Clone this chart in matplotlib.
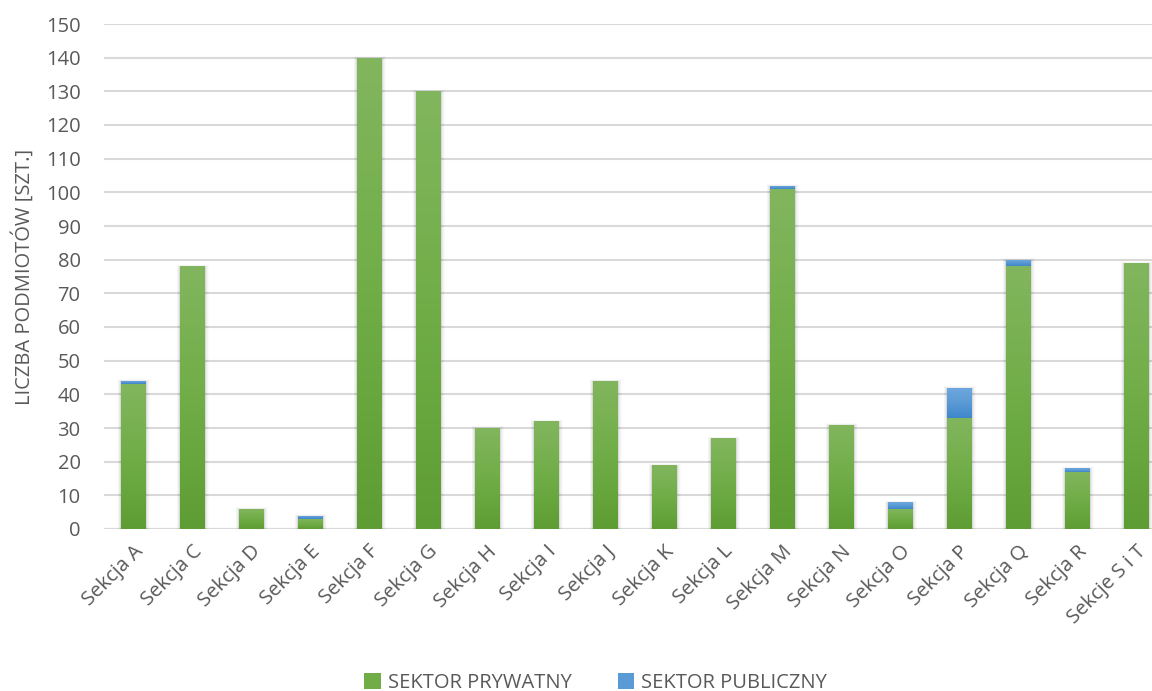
import matplotlib
matplotlib.use("Agg")
import matplotlib.pyplot as plt
import numpy as np
from matplotlib.colors import LinearSegmentedColormap
from matplotlib.patches import Patch

categories = ["Sekcja A", "Sekcja C", "Sekcja D", "Sekcja E", "Sekcja F", "Sekcja G",
              "Sekcja H", "Sekcja I", "Sekcja J", "Sekcja K", "Sekcja L", "Sekcja M",
              "Sekcja N", "Sekcja O", "Sekcja P", "Sekcja Q", "Sekcja R", "Sekcje S i T"]
prywatny = [43, 78, 6, 3, 140, 130, 30, 32, 44, 19, 27, 101, 31, 6, 33, 78, 17, 79]
publiczny = [1, 0, 0, 1, 0, 0, 0, 0, 0, 0, 0, 1, 0, 2, 9, 2, 1, 0]
yticks = list(range(0, 151, 10))

plt.rcParams['font.family'] = ['Open Sans', 'DejaVu Sans']
text_color = "#595959"
fs = 14.5

fig = plt.figure(figsize=(11.52, 6.91), dpi=100)
ax = fig.add_axes([103.5 / 1152, 1 - 529 / 691, 18 * 59 / 1152, 505 / 691])

green_cmap = LinearSegmentedColormap.from_list("g", ["#5e9d33", "#70ad47", "#82b65e"])
blue_cmap = LinearSegmentedColormap.from_list("b", ["#3f86cb", "#5b9bd5", "#6fa8df"])
grad = np.linspace(0, 1, 256).reshape(-1, 1)

x = np.arange(len(categories))
width = 0.42

def draw_bar(xc, bottom, h, cmap, z):
    if h <= 0:
        return
    bars = ax.bar(xc, h, width, bottom=bottom, color="none", edgecolor="none", zorder=z)
    p = bars[0]
    im = ax.imshow(grad, extent=[xc - width / 2, xc + width / 2, bottom, bottom + h],
                   aspect="auto", cmap=cmap, origin="lower", zorder=z)
    im.set_clip_path(p)

# soft shadows
for xi, a, b in zip(x, prywatny, publiczny):
    tot = a + b
    for k, alpha in enumerate([0.04, 0.035, 0.03, 0.025, 0.02]):
        d = 0.012 * (k + 1)
        ax.bar(xi + 0.01, tot + 0.15 * (k + 1), width + 2 * d, bottom=-0.3, color="black",
               alpha=alpha, edgecolor="none", zorder=2)

for xi, a, b in zip(x, prywatny, publiczny):
    draw_bar(xi, 0, a, green_cmap, 3)
    draw_bar(xi, a, b, blue_cmap, 3)

ax.set_xlim(-0.5, len(categories) - 0.5)
ax.set_ylim(0, 150)
ax.set_yticks(yticks)
ax.yaxis.grid(True, color="#d9d9d9", linewidth=1.5, zorder=0)
ax.set_axisbelow(True)
for s in ax.spines.values():
    s.set_visible(False)
ax.axhline(0, color="#d9d9d9", linewidth=1.5, zorder=1)
ax.tick_params(axis="both", length=0, colors=text_color, labelsize=fs)
ax.tick_params(axis="y", pad=16.5)
ax.set_xticks(x)
ax.set_xticklabels(categories, rotation=45, ha="right", rotation_mode="anchor", color=text_color)
ax.tick_params(axis="x", pad=9)
ax.set_ylabel("LICZBA PODMIOTÓW [SZT.]", color=text_color, fontsize=fs, labelpad=8)

handles = [Patch(facecolor="#70ad47", edgecolor="none"), Patch(facecolor="#5b9bd5", edgecolor="none")]
fig.legend(handles, ["SEKTOR PRYWATNY", "SEKTOR PUBLICZNY"], loc="center",
           bbox_to_anchor=(0.517, 1 - 683 / 691), ncol=2, frameon=False, fontsize=fs,
           labelcolor=text_color, handlelength=0.8, handleheight=0.8, handletextpad=0.35,
           columnspacing=2.3)

fig.savefig("out.png", dpi=100)
